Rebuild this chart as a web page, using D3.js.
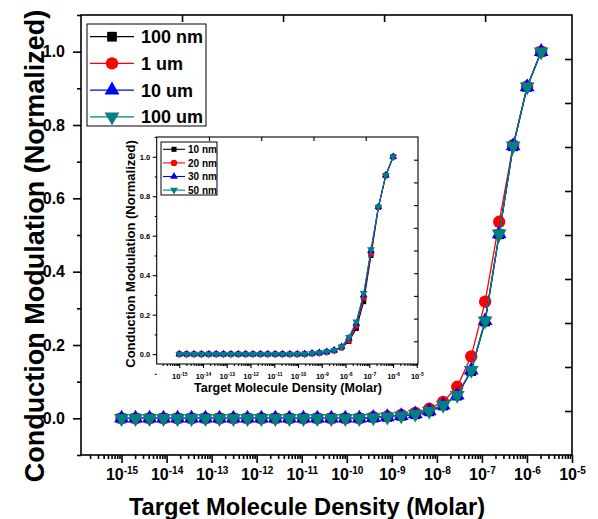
<!DOCTYPE html>
<html>
<head>
<meta charset="utf-8">
<script src="https://cdn.jsdelivr.net/npm/d3@7"></script>
<style>
  body { margin: 0; background: #fff; }
  svg { display: block; }
  text { font-family: "Liberation Sans", Arial, sans-serif; font-weight: bold; fill: #000; }
</style>
</head>
<body>
<svg id="chart" width="598" height="519"></svg>
<script>
// ---- data ----
// main panel: 31 concentrations (Molar)
const mainConc = [1.00e-15, 2.04e-15, 4.18e-15, 8.54e-15, 1.75e-14, 3.57e-14, 7.29e-14, 1.49e-13,
  3.05e-13, 6.23e-13, 1.27e-12, 2.60e-12, 5.32e-12, 1.09e-11, 2.22e-11, 4.54e-11, 9.29e-11,
  1.90e-10, 3.88e-10, 7.93e-10, 1.62e-9, 3.32e-9, 6.78e-9, 1.38e-8, 2.83e-8, 5.79e-8, 1.18e-7,
  2.42e-7, 4.94e-7, 1.01e-6, 2.07e-6]
const mainLabels = ['100 nm', '1 um', '10 um', '100 um']
const main100nm = [0, 0, 0, 0, 0, 0, 0, 0, 0, 0, 0, 0, 0, 0, 0, 0, 0, 0, 0.002, 0.004, 0.007,
  0.011, 0.019, 0.035, 0.062, 0.129, 0.264, 0.502, 0.742, 0.904, 1.0]
const main1um = [0, 0, 0, 0, 0, 0, 0, 0, 0, 0, 0, 0, 0, 0, 0, 0, 0, 0, 0.003, 0.005, 0.009,
  0.015, 0.026, 0.045, 0.086, 0.169, 0.318, 0.536, 0.745, 0.905, 1.0]
const main10um = [0, 0, 0, 0, 0, 0, 0, 0, 0, 0, 0, 0, 0, 0, 0, 0, 0, 0, 0.002, 0.004, 0.007,
  0.012, 0.020, 0.036, 0.063, 0.131, 0.266, 0.503, 0.743, 0.904, 1.0]
const main100um = [0, 0, 0, 0, 0, 0, 0, 0, 0, 0, 0, 0, 0, 0, 0, 0, 0, 0, 0.002, 0.004, 0.007,
  0.012, 0.020, 0.036, 0.063, 0.131, 0.266, 0.503, 0.743, 0.904, 1.0]

// inset panel: 30 concentrations (Molar)
const insetConc = [1.00e-15, 2.04e-15, 4.18e-15, 8.54e-15, 1.75e-14, 3.57e-14, 7.29e-14, 1.49e-13,
  3.05e-13, 6.23e-13, 1.27e-12, 2.60e-12, 5.32e-12, 1.09e-11, 2.22e-11, 4.54e-11, 9.29e-11,
  1.90e-10, 3.88e-10, 7.93e-10, 1.62e-9, 3.32e-9, 6.78e-9, 1.38e-8, 2.83e-8, 5.79e-8, 1.18e-7,
  2.42e-7, 4.94e-7, 1.01e-6]
const insetLabels = ['10 nm', '20 nm', '30 nm', '50 nm']
const inset10nm = [0, 0, 0, 0, 0, 0, 0, 0, 0, 0, 0, 0, 0, 0, 0, 0, 0, 0.001, 0.003, 0.006,
  0.010, 0.018, 0.032, 0.065, 0.130, 0.266, 0.500, 0.743, 0.905, 1.0]
const inset20nm = [0, 0, 0, 0, 0, 0, 0, 0, 0, 0, 0, 0, 0, 0, 0, 0, 0, 0.001, 0.003, 0.006,
  0.011, 0.019, 0.035, 0.072, 0.145, 0.285, 0.510, 0.745, 0.905, 1.0]
const inset30nm = [0, 0, 0, 0, 0, 0, 0, 0, 0, 0, 0, 0, 0, 0, 0, 0, 0, 0.001, 0.004, 0.007,
  0.012, 0.020, 0.037, 0.080, 0.155, 0.300, 0.525, 0.746, 0.906, 1.0]
const inset50nm = [0, 0, 0, 0, 0, 0, 0, 0, 0, 0, 0, 0, 0, 0, 0, 0, 0, 0.001, 0.004, 0.007,
  0.012, 0.020, 0.038, 0.085, 0.164, 0.308, 0.530, 0.746, 0.906, 1.0]

const yTickValues = [0, 0.2, 0.4, 0.6, 0.8, 1.0]
const yMinorValues = [-0.1, 0.1, 0.3, 0.5, 0.7, 0.9, 1.1]
const decadeExps = [-15, -14, -13, -12, -11, -10, -9, -8, -7, -6, -5]

const colors = ['#000000', '#ff0000', '#0000ff', '#008080']
const shapes = ['square', 'circle', 'up', 'down']

const svg = d3.select('#chart')

function marker(shape, size) {
    let type = d3.symbolSquare
    if (shape === 'circle') type = d3.symbolCircle
    if (shape === 'up' || shape === 'down') type = d3.symbolTriangle
    return d3.symbol().type(type).size(size)()
}

function drawPanel(cfg) {
    const x = d3.scaleLog().domain(cfg.xDomain).range([cfg.left, cfg.right])
    const y = d3.scaleLinear().domain(cfg.yDomain).range([cfg.bottom, cfg.top])
    const g = svg.append('g')

    g.append('rect')
        .attr('x', cfg.left).attr('y', cfg.top)
        .attr('width', cfg.right - cfg.left).attr('height', cfg.bottom - cfg.top)
        .attr('fill', '#fff')

    // minor x ticks (2..9 per decade inside the domain)
    const minor = []
    for (let e = -17; e <= -4; e++) {
        for (let m = 2; m <= 9; m++) {
            const v = m * Math.pow(10, e)
            if (v > cfg.xDomain[0] && v < cfg.xDomain[1]) minor.push(v)
        }
    }
    g.append('g')
        .attr('transform', `translate(0,${cfg.bottom})`)
        .call(d3.axisBottom(x).tickValues(minor).tickSize(cfg.minorTick).tickFormat(() => ''))
        .call(a => a.select('.domain').remove())

    const xAxis = g.append('g')
        .attr('transform', `translate(0,${cfg.bottom})`)
        .call(d3.axisBottom(x).tickValues(decadeExps.map(e => Math.pow(10, e))).tickSize(cfg.majorTick))
        .call(a => a.select('.domain').remove())
    xAxis.selectAll('.tick text')
        .attr('y', cfg.xLabelY - cfg.bottom)
        .attr('dy', 0)
        .style('font-size', cfg.tickFont + 'px')
        .each(function (d) {
            const t = d3.select(this)
            t.text(null)
            t.append('tspan').text('10')
            t.append('tspan')
                .attr('dy', -cfg.supShift)
                .style('font-size', cfg.supFont + 'px')
                .text(String(Math.round(Math.log10(d))))
        })

    // left axis
    g.append('g')
        .attr('transform', `translate(${cfg.left},0)`)
        .call(d3.axisLeft(y).tickValues(yMinorValues).tickSize(cfg.minorTick).tickFormat(() => ''))
        .call(a => a.select('.domain').remove())
    g.append('g')
        .attr('transform', `translate(${cfg.left},0)`)
        .call(d3.axisLeft(y).tickValues(yTickValues).tickSize(cfg.majorTick)
            .tickPadding(cfg.yPad).tickFormat(d3.format('.1f')))
        .call(a => a.select('.domain').remove())
        .selectAll('.tick text')
        .style('font-size', cfg.tickFont + 'px')

    // top and right axes (unlabelled, inward ticks)
    const xTop = d3.scaleLinear().domain([0, cfg.topSpan]).range([cfg.left, cfg.right])
    g.append('g')
        .attr('transform', `translate(0,${cfg.top})`)
        .call(d3.axisBottom(xTop).tickValues([1, 2, 3, 4]).tickSize(cfg.inTick).tickFormat(() => ''))
        .call(a => a.select('.domain').remove())
    const yRight = d3.scaleLinear().domain([0, 10]).range([cfg.bottom, cfg.top])
    g.append('g')
        .attr('transform', `translate(${cfg.right},0)`)
        .call(d3.axisLeft(yRight).tickValues(d3.range(1, 10)).tickSize(cfg.inTick).tickFormat(() => ''))
        .call(a => a.select('.domain').remove())

    g.selectAll('.tick line').attr('stroke', '#000').attr('stroke-width', cfg.axisWidth)

    g.append('rect')
        .attr('x', cfg.left).attr('y', cfg.top)
        .attr('width', cfg.right - cfg.left).attr('height', cfg.bottom - cfg.top)
        .attr('fill', 'none').attr('stroke', '#000').attr('stroke-width', cfg.axisWidth)

    // series
    const line = d3.line().x(d => x(d.c)).y(d => y(d.v))
    cfg.series.forEach((vals, i) => {
        const pts = vals.map((v, j) => ({ c: cfg.conc[j], v: v }))
        g.append('path')
            .datum(pts)
            .attr('d', line)
            .attr('fill', 'none')
            .attr('stroke', colors[i])
            .attr('stroke-width', cfg.lineWidth)
        g.selectAll('.m' + i)
            .data(pts)
            .join('path')
            .attr('d', marker(shapes[i], cfg.markSize[i]))
            .attr('transform', d => `translate(${x(d.c)},${y(d.v)})` + (shapes[i] === 'down' ? ' rotate(180)' : ''))
            .attr('fill', colors[i])
    })

    // axis titles
    g.append('text')
        .attr('transform', `translate(${cfg.yTitle[0]},${cfg.yTitle[1]}) rotate(-90)`)
        .attr('text-anchor', 'middle')
        .style('font-size', cfg.yTitleFont + 'px')
        .text('Conduction Modulation (Normalized)')
    g.append('text')
        .attr('x', cfg.xTitle[0]).attr('y', cfg.xTitle[1])
        .attr('text-anchor', 'middle')
        .style('font-size', cfg.xTitleFont + 'px')
        .text('Target Molecule Density (Molar)')

    // legend
    const L = cfg.legend
    const lg = g.append('g')
    lg.append('rect')
        .attr('x', L.x).attr('y', L.y).attr('width', L.w).attr('height', L.h)
        .attr('fill', '#fff').attr('stroke', '#000').attr('stroke-width', 1)
    cfg.labels.forEach((lab, i) => {
        const yy = L.y + L.first + i * L.step
        lg.append('line')
            .attr('x1', L.x + L.lineX[0]).attr('x2', L.x + L.lineX[1])
            .attr('y1', yy).attr('y2', yy)
            .attr('stroke', colors[i]).attr('stroke-width', cfg.lineWidth)
        lg.append('path')
            .attr('d', marker(shapes[i], cfg.markSize[i]))
            .attr('transform', `translate(${L.x + (L.lineX[0] + L.lineX[1]) / 2},${yy})` + (shapes[i] === 'down' ? ' rotate(180)' : ''))
            .attr('fill', colors[i])
        lg.append('text')
            .attr('x', L.x + L.textX).attr('y', yy)
            .attr('dy', '0.36em')
            .style('font-size', L.font + 'px')
            .text(lab)
    })
}

// main panel
drawPanel({
    left: 81, right: 572, top: 15, bottom: 455,
    xDomain: [Math.pow(10, -15.9), 1e-5], yDomain: [-0.1, 1.1],
    conc: mainConc, series: [main100nm, main1um, main10um, main100um], labels: mainLabels,
    majorTick: 8, minorTick: 4, inTick: 7, topSpan: 4.86, axisWidth: 1.6,
    tickFont: 16, supFont: 10, supShift: 6, xLabelY: 480, yPad: 8,
    lineWidth: 1.3, markSize: [95, 120, 95, 95],
    yTitle: [44, 246], yTitleFont: 27,
    xTitle: [307, 515], xTitleFont: 23.7,
    legend: { x: 87, y: 24, w: 119, h: 102, first: 12.7, step: 26.7, lineX: [3, 47], textX: 54, font: 18 }
})

// inset panel
drawPanel({
    left: 156.7, right: 418, top: 137, bottom: 364,
    xDomain: [Math.pow(10, -15.95), Math.pow(10, -4.95)], yDomain: [-0.05, 1.1],
    conc: insetConc, series: [inset10nm, inset20nm, inset30nm, inset50nm], labels: insetLabels,
    majorTick: 4, minorTick: 2, inTick: 4, topSpan: 5, axisWidth: 1.1,
    tickFont: 7.5, supFont: 5, supShift: 3, xLabelY: 379, yPad: 2.5,
    lineWidth: 1.1, markSize: [26, 32, 26, 26],
    yTitle: [135, 254], yTitleFont: 13,
    xTitle: [288, 392], xTitleFont: 12.5,
    legend: { x: 161, y: 142, w: 56, h: 53, first: 7.3, step: 13.6, lineX: [2, 24], textX: 27, font: 10 }
})
</script>
</body>
</html>
